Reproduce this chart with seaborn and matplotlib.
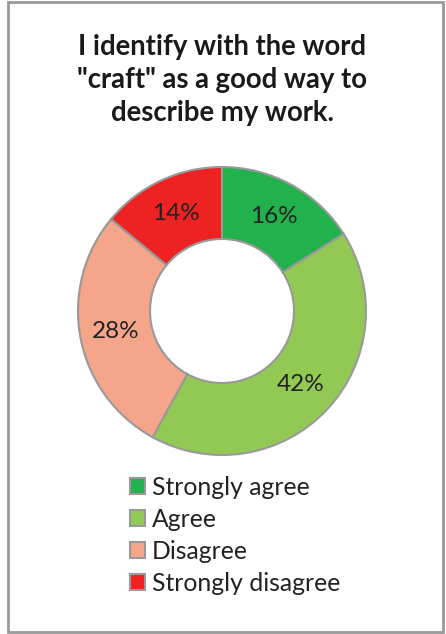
import matplotlib
matplotlib.use("Agg")
import matplotlib.pyplot as plt
import seaborn as sns
from matplotlib.patches import Rectangle, Patch

categories = ["Strongly agree", "Agree", "Disagree", "Strongly disagree"]
values = [16, 42, 28, 14]
colors = ["#22B14C", "#92C955", "#F4A58A", "#EE2222"]
title = 'I identify with the word\n"craft" as a good way to\ndescribe my work.'

sns.set_theme(style="white")
plt.rcParams['font.family'] = ['Lato', 'DejaVu Sans']

fig = plt.figure(figsize=(4.46, 6.34), dpi=100)
W, H = 446, 634

# border
fig.patches.append(Rectangle((8 / W, 2 / H), 435 / W, 630 / H, transform=fig.transFigure,
                             fill=False, edgecolor="#999999", linewidth=2))

fig.text(222 / W, 1 - 80 / H, title, ha="center", va="center", fontsize=19.8,
         fontweight="bold", color="#1a1a1a", linespacing=1.34)

cx, cy, r = 222, 311, 144
ax = fig.add_axes([(cx - r) / W, 1 - (cy + r) / H, 2 * r / W, 2 * r / H])
wedges, texts, autotexts = ax.pie(
    values, colors=colors, startangle=90, counterclock=False,
    autopct=lambda p: f"{p:.0f}%", pctdistance=0.75,
    wedgeprops=dict(width=0.5, edgecolor="#999999", linewidth=1.5),
    textprops=dict(fontsize=17.5, color="#222222"))
ax.set_aspect("equal")
ax.set_xlim(-1, 1)
ax.set_ylim(-1, 1)
ax.axis("off")

handles = [Patch(facecolor=c, edgecolor="#999999", linewidth=1.5) for c in colors]
fig.legend(handles, categories, loc="upper left", bbox_to_anchor=(130 / W, 1 - 476 / H),
           frameon=False, fontsize=17.8, handlelength=0.6, handleheight=0.6,
           handletextpad=0.3, labelspacing=0.36, borderaxespad=0, borderpad=0,
           labelcolor="#222222")

fig.savefig("out.png", dpi=100)
